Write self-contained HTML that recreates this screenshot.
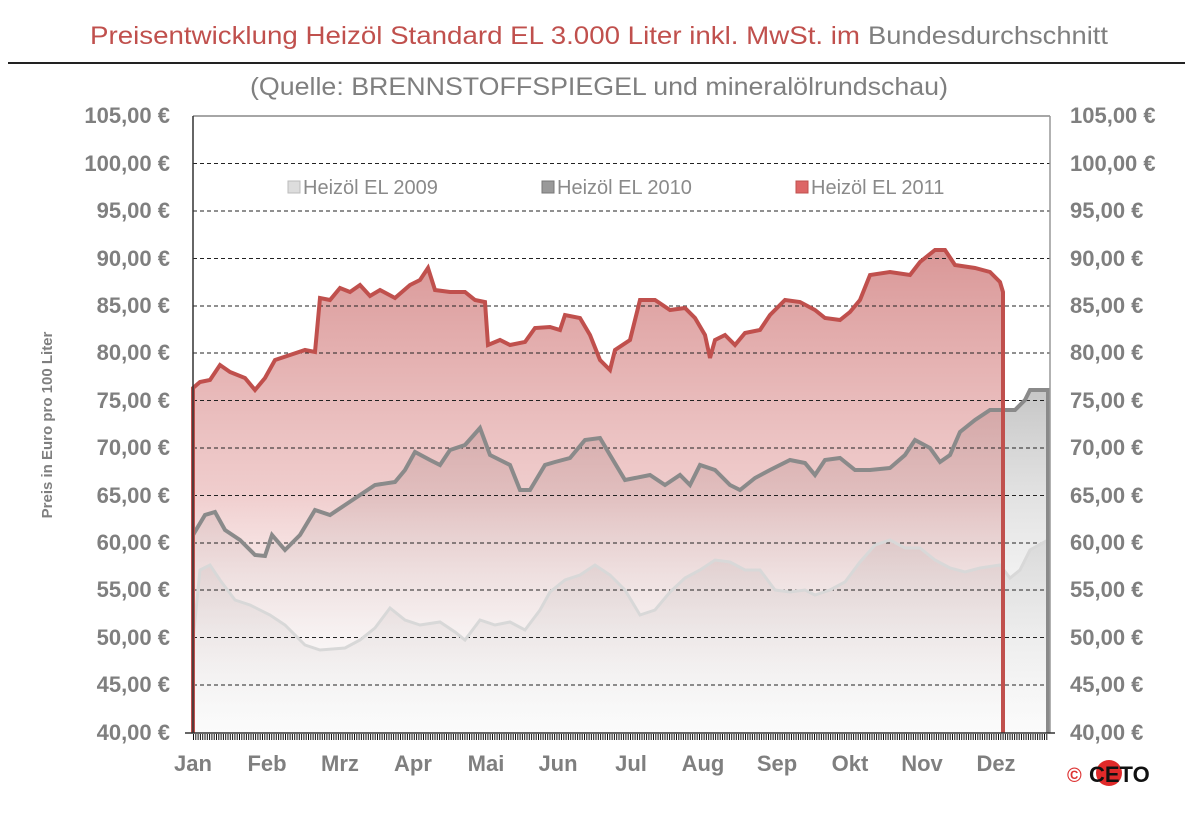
<!DOCTYPE html>
<html><head><meta charset="utf-8"><style>body{margin:0;background:#fff}svg{display:block}</style></head>
<body>
<svg width="1200" height="826" xmlns="http://www.w3.org/2000/svg" font-family="Liberation Sans, sans-serif">
<defs>
<linearGradient id="gr" x1="0" y1="250" x2="0" y2="733" gradientUnits="userSpaceOnUse">
<stop offset="0" stop-color="#d07d7d" stop-opacity="0.8"/>
<stop offset="0.5" stop-color="#e09a9a" stop-opacity="0.5"/>
<stop offset="1" stop-color="#ffffff" stop-opacity="0"/></linearGradient>
<linearGradient id="gd" x1="0" y1="390" x2="0" y2="733" gradientUnits="userSpaceOnUse">
<stop offset="0" stop-color="#a0a0a0" stop-opacity="0.6"/>
<stop offset="1" stop-color="#ffffff" stop-opacity="0.1"/></linearGradient>
<linearGradient id="gl" x1="0" y1="540" x2="0" y2="733" gradientUnits="userSpaceOnUse">
<stop offset="0" stop-color="#e4e4e4"/>
<stop offset="1" stop-color="#fbfbfb"/></linearGradient>
</defs>
<text x="90" y="44" font-size="25" fill="#c0504d" textLength="770" lengthAdjust="spacingAndGlyphs">Preisentwicklung Heizöl Standard EL 3.000 Liter inkl. MwSt. im</text>
<text x="868" y="44" font-size="25" fill="#7f7f7f" textLength="240" lengthAdjust="spacingAndGlyphs">Bundesdurchschnitt</text>
<line x1="8" y1="63" x2="1185" y2="63" stroke="#222" stroke-width="2"/>
<text x="250" y="95" font-size="25" fill="#7f7f7f" textLength="698" lengthAdjust="spacingAndGlyphs">(Quelle: BRENNSTOFFSPIEGEL  und mineralölrundschau)</text>

<polygon fill="url(#gl)" points="193,733 193,640 200,570 210,565 220,580 235,600 250,605 270,615 285,625 305,645 320,650 345,648 360,640 375,628 390,608 405,620 420,625 440,622 455,632 465,640 480,620 495,625 510,622 525,630 540,610 550,592 565,580 580,575 595,565 610,575 625,590 640,615 655,610 670,592 685,578 700,570 715,560 730,562 745,570 760,570 775,590 790,592 805,590 815,595 830,590 845,582 860,562 875,545 890,540 905,548 920,548 935,560 950,568 965,572 980,568 1000,565 1010,578 1020,570 1030,550 1048,540 1048,733"/>
<polygon fill="url(#gd)" points="193,733 193,535 205,515 215,512 225,530 240,540 255,555 265,556 272,535 285,550 300,535 315,510 330,515 345,505 360,495 375,485 395,482 405,470 415,452 430,460 440,465 450,450 465,445 480,428 490,455 500,460 510,465 520,490 530,490 545,465 555,462 570,458 585,440 600,438 610,455 625,480 635,478 650,475 665,485 680,475 690,485 700,465 715,470 730,485 740,490 755,478 770,470 790,460 805,463 815,475 825,460 840,458 855,470 870,470 890,468 905,455 915,440 930,448 940,462 950,455 960,432 975,420 990,410 1005,410 1015,410 1025,400 1030,390 1048,390 1048,733"/>
<polygon fill="url(#gr)" points="193,733 193,388 200,382 210,380 220,365 230,372 245,378 255,390 265,378 275,360 290,355 305,350 315,352 320,298 330,300 340,288 350,292 360,285 370,296 380,290 395,298 410,285 420,280 428,268 435,290 450,292 465,292 475,300 485,302 488,345 500,340 510,345 525,342 535,328 550,327 560,330 565,315 580,318 590,335 600,360 610,370 615,350 630,340 640,300 655,300 670,310 685,308 695,318 705,335 710,358 715,340 725,335 735,345 745,333 760,330 770,315 785,300 800,302 815,310 825,318 840,320 850,312 860,300 870,275 890,272 910,275 920,262 935,250 945,250 955,265 975,268 990,272 1000,282 1003,292 1003,733"/>

<g stroke="#222" stroke-width="1" stroke-dasharray="4,3">
<line x1="193" x2="1050" y1="163.5" y2="163.5"/><line x1="193" x2="1050" y1="211" y2="211"/><line x1="193" x2="1050" y1="258.5" y2="258.5"/><line x1="193" x2="1050" y1="306" y2="306"/><line x1="193" x2="1050" y1="353" y2="353"/><line x1="193" x2="1050" y1="400.5" y2="400.5"/><line x1="193" x2="1050" y1="448" y2="448"/><line x1="193" x2="1050" y1="495.5" y2="495.5"/><line x1="193" x2="1050" y1="543" y2="543"/><line x1="193" x2="1050" y1="590" y2="590"/><line x1="193" x2="1050" y1="637.5" y2="637.5"/><line x1="193" x2="1050" y1="685" y2="685"/>
</g>
<line x1="193" x2="1050" y1="116" y2="116" stroke="#888" stroke-width="1.5"/>

<polyline fill="none" stroke="#d8d8d8" stroke-width="3" points="193,640 200,570 210,565 220,580 235,600 250,605 270,615 285,625 305,645 320,650 345,648 360,640 375,628 390,608 405,620 420,625 440,622 455,632 465,640 480,620 495,625 510,622 525,630 540,610 550,592 565,580 580,575 595,565 610,575 625,590 640,615 655,610 670,592 685,578 700,570 715,560 730,562 745,570 760,570 775,590 790,592 805,590 815,595 830,590 845,582 860,562 875,545 890,540 905,548 920,548 935,560 950,568 965,572 980,568 1000,565 1010,578 1020,570 1030,550 1048,540 1048,733"/>
<polyline fill="none" stroke="#8a8a8a" stroke-width="4" points="193,535 205,515 215,512 225,530 240,540 255,555 265,556 272,535 285,550 300,535 315,510 330,515 345,505 360,495 375,485 395,482 405,470 415,452 430,460 440,465 450,450 465,445 480,428 490,455 500,460 510,465 520,490 530,490 545,465 555,462 570,458 585,440 600,438 610,455 625,480 635,478 650,475 665,485 680,475 690,485 700,465 715,470 730,485 740,490 755,478 770,470 790,460 805,463 815,475 825,460 840,458 855,470 870,470 890,468 905,455 915,440 930,448 940,462 950,455 960,432 975,420 990,410 1005,410 1015,410 1025,400 1030,390 1048,390 1048,733"/>
<polyline fill="none" stroke="#c0504d" stroke-width="4" points="193,733 193,388 200,382 210,380 220,365 230,372 245,378 255,390 265,378 275,360 290,355 305,350 315,352 320,298 330,300 340,288 350,292 360,285 370,296 380,290 395,298 410,285 420,280 428,268 435,290 450,292 465,292 475,300 485,302 488,345 500,340 510,345 525,342 535,328 550,327 560,330 565,315 580,318 590,335 600,360 610,370 615,350 630,340 640,300 655,300 670,310 685,308 695,318 705,335 710,358 715,340 725,335 735,345 745,333 760,330 770,315 785,300 800,302 815,310 825,318 840,320 850,312 860,300 870,275 890,272 910,275 920,262 935,250 945,250 955,265 975,268 990,272 1000,282 1003,292 1003,733"/>

<line x1="193" y1="116" x2="193" y2="733" stroke="#333" stroke-width="1.5"/>
<line x1="1050" y1="116" x2="1050" y2="733" stroke="#999" stroke-width="1.5"/>
<line x1="185" y1="733" x2="1055" y2="733" stroke="#333" stroke-width="1.5"/>
<line x1="193" y1="737" x2="1048" y2="737" stroke="#111" stroke-width="6" stroke-dasharray="1,1.3"/>

<g font-size="20" fill="#8a8a8a">
<rect x="288" y="181" width="12" height="12" fill="#ddd" stroke="#bbb"/><text x="303" y="194">Heizöl EL 2009</text>
<rect x="542" y="181" width="12" height="12" fill="#999" stroke="#777"/><text x="557" y="194">Heizöl EL 2010</text>
<rect x="796" y="181" width="12" height="12" fill="#d66" stroke="#c0504d"/><text x="811" y="194">Heizöl EL 2011</text>
</g>

<g font-size="22" font-weight="bold" fill="#7f7f7f">
<g text-anchor="end">
<text x="170" y="123">105,00 €</text><text x="170" y="171">100,00 €</text><text x="170" y="218">95,00 €</text><text x="170" y="266">90,00 €</text><text x="170" y="313">85,00 €</text><text x="170" y="360">80,00 €</text><text x="170" y="408">75,00 €</text><text x="170" y="455">70,00 €</text><text x="170" y="503">65,00 €</text><text x="170" y="550">60,00 €</text><text x="170" y="597">55,00 €</text><text x="170" y="645">50,00 €</text><text x="170" y="692">45,00 €</text><text x="170" y="740">40,00 €</text>
</g>
<g>
<text x="1070" y="123">105,00 €</text><text x="1070" y="171">100,00 €</text><text x="1070" y="218">95,00 €</text><text x="1070" y="266">90,00 €</text><text x="1070" y="313">85,00 €</text><text x="1070" y="360">80,00 €</text><text x="1070" y="408">75,00 €</text><text x="1070" y="455">70,00 €</text><text x="1070" y="503">65,00 €</text><text x="1070" y="550">60,00 €</text><text x="1070" y="597">55,00 €</text><text x="1070" y="645">50,00 €</text><text x="1070" y="692">45,00 €</text><text x="1070" y="740">40,00 €</text>
</g>
<g text-anchor="middle">
<text x="193" y="771">Jan</text><text x="267" y="771">Feb</text><text x="340" y="771">Mrz</text><text x="413" y="771">Apr</text><text x="486" y="771">Mai</text><text x="558" y="771">Jun</text><text x="631" y="771">Jul</text><text x="703" y="771">Aug</text><text x="777" y="771">Sep</text><text x="850" y="771">Okt</text><text x="922" y="771">Nov</text><text x="996" y="771">Dez</text>
</g>
</g>
<text transform="translate(52,425) rotate(-90)" text-anchor="middle" font-size="15" font-weight="bold" fill="#7f7f7f">Preis in Euro pro 100 Liter</text>

<text x="1067" y="782" font-size="20" font-weight="bold" fill="#d33">©</text>
<circle cx="1109" cy="773" r="13" fill="#e02a2a"/>
<text x="1089" y="782" font-size="22" font-weight="bold" fill="#111">CETO</text>
</svg>
</body></html>
